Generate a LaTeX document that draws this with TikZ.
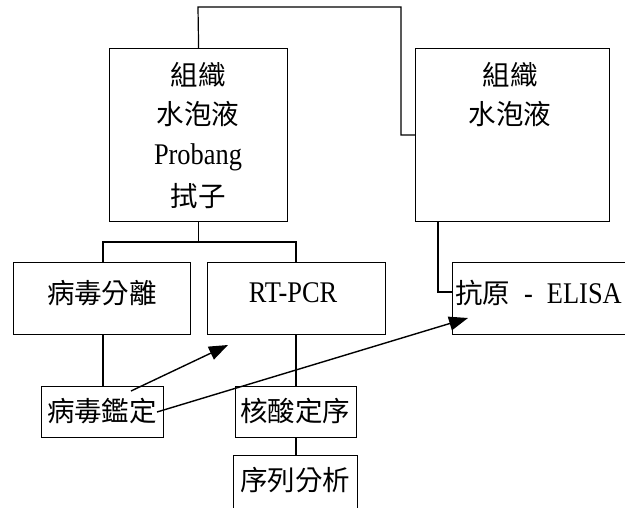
\documentclass[tikz,border=0pt]{standalone}
\usepackage{fontspec}
\setmainfont[FakeStretch=0.88]{Liberation Serif}
\newfontfamily\cjk{Noto Sans CJK TC}
\usetikzlibrary{arrows.meta}
\begin{document}
\begin{tikzpicture}[x=1pt,y=-1pt,
  box/.style={draw,line width=1.2pt,inner sep=0pt,anchor=north west},
  txt/.style={font=\fontsize{30}{40}\selectfont, inner sep=0pt, align=center},
  cj/.style={font=\cjk\fontsize{27.5}{40}\selectfont, inner sep=0pt, align=center},
  link/.style={line width=1.2pt},
  arr/.style={line width=1.4pt,-{Triangle[length=19pt,width=14pt]}}]
\useasboundingbox (0,0) rectangle (625,507);
\clip (0,0) rectangle (625,507);
% boxes
\node[box, minimum width=178pt, minimum height=173pt] (L) at (109,48) {};
\node[box, minimum width=194pt, minimum height=173pt] (RB) at (415,48) {};
\node[box, minimum width=177pt, minimum height=72pt] (V) at (13,262) {};
\node[box, minimum width=178pt, minimum height=72pt] (R) at (207,262) {};
\node[box, minimum width=175pt, minimum height=72pt] (E) at (452,262) {};
\node[box, minimum width=122pt, minimum height=51pt] (J) at (41,386) {};
\node[box, minimum width=121pt, minimum height=51pt] (H) at (235,386) {};
\node[box, minimum width=124pt, minimum height=70pt] (S) at (233,455) {};
% texts
\node[cj] (Lt1) at (198,75) {組織};
\node[cj] (Lt2) at (198,114) {水泡液};
\node[txt] (Lt3) at (198,157) {Probang};
\node[cj] (Lt4) at (198,196) {拭子};
\node[cj] (RBt1) at (510,75) {組織};
\node[cj] (RBt2) at (510,114) {水泡液};
\node[cj] (Vt) at (102,293) {病毒分離};
\node[txt] (Rt) at (293,293) {RT-PCR};
\node[txt, anchor=west] (Et) at (455,293) {{\cjk\fontsize{27.5}{40}\selectfont 抗原}\hspace{14pt}-\hspace{14pt}ELISA};
\node[cj] (Jt) at (102,411) {病毒鑑定};
\node[cj] (Ht) at (295,411) {核酸定序};
\node[cj] (St) at (295,480) {序列分析};
% connectors
\coordinate (t1) at (198,7);
\coordinate (t2) at (401,7);
\coordinate (t3) at (401,135);
\draw[link] (L.north) -- (t1) -- (t2) -- (t3) -- (t3 -| RB.west);
\coordinate (brL) at (103,242);
\coordinate (brR) at (296,242);
\draw[link] (L.south) -- (L.south |- brL);
\draw[link] (brL |- V.north) -- (brL) -- (brR) -- (brR |- R.north);
\draw[link] (brL |- V.south) -- (brL |- J.north);
\draw[link] (brR |- R.south) -- (brR |- H.north);
\draw[link] (brR |- H.south) -- (brR |- S.north);
\coordinate (e1) at (438,292);
\draw[link] (e1 |- RB.south) -- (e1) -- (e1 -| E.west);
% arrows
\coordinate (a1s) at (131,391);
\coordinate (a1e) at (228,345);
\coordinate (a2s) at (157,412);
\coordinate (a2e) at (468,318);
\draw[arr] (a1s) -- (a1e);
\draw[arr] (a2s) -- (a2e);
\end{tikzpicture}
\end{document}
